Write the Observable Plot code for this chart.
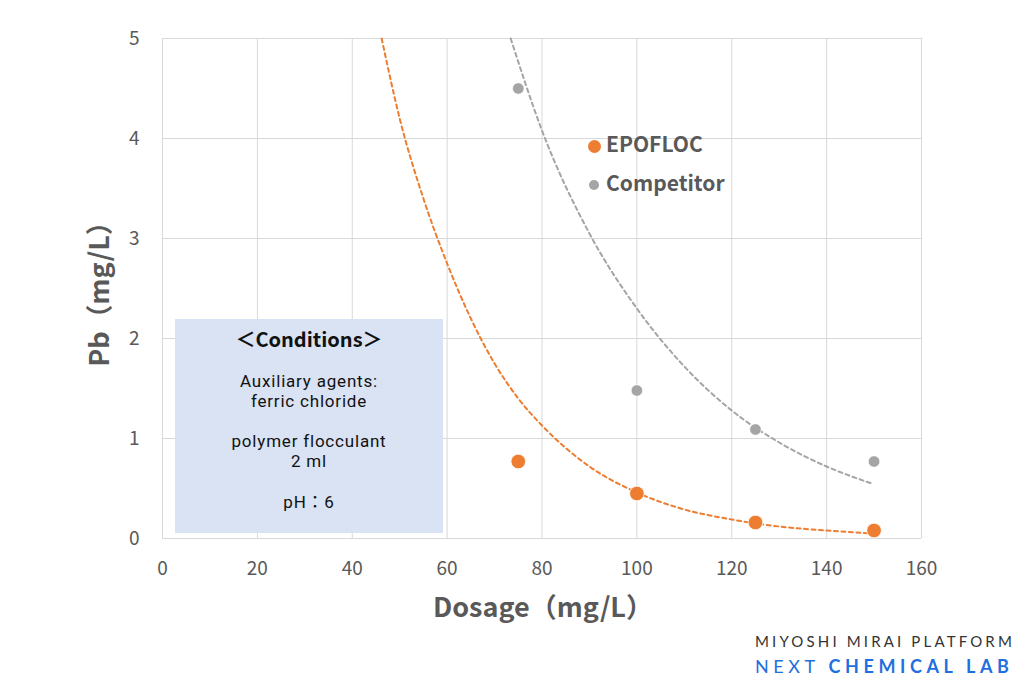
<!DOCTYPE html>
<html>
<head>
<meta charset="utf-8">
<script src="https://cdn.jsdelivr.net/npm/d3@7"></script>
<script src="https://cdn.jsdelivr.net/npm/@observablehq/plot@0.6"></script>
<style>
  body { margin: 0; background: #fff; }
  #wrap { position: relative; width: 1024px; height: 683px; overflow: hidden; font-family: "Noto Sans CJK JP", "Noto Sans", sans-serif; }
  #box { position: absolute; left: 175px; top: 319px; width: 268px; height: 214px; background: #dae3f3; color: #111; text-align: center; }
  #box .t { position: absolute; left: 0; width: 100%; font-family: Roboto, "Noto Sans CJK JP", sans-serif; font-size: 17px; letter-spacing: 0.8px; line-height: 20px; height: 20px; white-space: nowrap; }
  #box .h { font-family: "Noto Sans CJK JP", sans-serif; font-size: 20px; letter-spacing: 0; font-weight: bold; line-height: 28px; height: 28px; }
  .leg { position: absolute; font-size: 21px; font-weight: bold; color: #595959; line-height: 24px; white-space: nowrap; }
  .leg span.d { display: inline-block; border-radius: 50%; vertical-align: middle; }
  #wm1 { position: absolute; left: 755px; top: 632px; font-family: Lato, "Open Sans", sans-serif; font-size: 15px; letter-spacing: 3.15px; color: #333; white-space: nowrap; }
  #wm2 { position: absolute; left: 755px; top: 655px; font-family: Lato, "Open Sans", sans-serif; font-size: 18px; letter-spacing: 4.6px; color: #1f6fe0; white-space: nowrap; }
</style>
</head>
<body>
<div id="wrap"></div>
<script>
// Measured data
const dosage = [75, 100, 125, 150];
const epofloc = [0.77, 0.45, 0.16, 0.08];
const competitor = [4.5, 1.48, 1.09, 0.77];

// Trend lines
const epoTrendX = [46.2, 50, 55, 60, 65, 70, 75, 80, 90, 100, 110, 120, 130, 140, 150];
const epoTrendY = [5.0, 4.2, 3.4, 2.75, 2.2, 1.75, 1.4, 1.13, 0.72, 0.46, 0.29, 0.19, 0.12, 0.08, 0.05];
const compTrendX = [73.4, 80, 90, 100, 110, 120, 130, 140, 149.5];
const compTrendY = [5.0, 4.08, 3.05, 2.3, 1.72, 1.28, 0.96, 0.72, 0.55];

// Ticks and labels
const xTicks = [0, 20, 40, 60, 80, 100, 120, 140, 160];
const yTicks = [0, 1, 2, 3, 4, 5];
const xTitle = "Dosage（mg/L）";
const yTitle = "Pb（mg/L）";
const seriesNames = ["EPOFLOC", "Competitor"];
const seriesColors = ["#ED7D31", "#A5A5A5"];
const conditionTitle = "＜Conditions＞";
const conditionLines = ["Auxiliary agents:", "ferric chloride", "polymer flocculant", "2 ml", "pH：6"];

const epoPts = dosage.map((x, i) => ({x, y: epofloc[i]}));
const compPts = dosage.map((x, i) => ({x, y: competitor[i]}));
const epoTrend = epoTrendX.map((x, i) => ({x, y: epoTrendY[i]}));
const compTrend = compTrendX.map((x, i) => ({x, y: compTrendY[i]}));

const chart = Plot.plot({
  width: 1024,
  height: 683,
  marginLeft: 162,
  marginRight: 103,
  marginTop: 38,
  marginBottom: 145,
  style: {fontFamily: "'Noto Sans CJK JP', 'Noto Sans', sans-serif", fontSize: "19px", color: "#595959", background: "transparent"},
  x: {domain: [0, 160]},
  y: {domain: [0, 5]},
  marks: [
    Plot.gridX(xTicks, {stroke: "#d9d9d9", strokeOpacity: 1}),
    Plot.gridY(yTicks, {stroke: "#d9d9d9", strokeOpacity: 1}),
    Plot.axisX(xTicks, {tickSize: 0, tickPadding: 23, label: null, fontSize: 19, fill: "#595959", tickFormat: d3.format("d")}),
    Plot.axisY(yTicks, {tickSize: 0, tickPadding: 23, label: null, fontSize: 19, fill: "#595959", tickFormat: d3.format("d")}),
    Plot.line(compTrend, {x: "x", y: "y", curve: "monotone-x", stroke: seriesColors[1], strokeWidth: 2, strokeDasharray: "4,3.5"}),
    Plot.line(epoTrend, {x: "x", y: "y", curve: "monotone-x", stroke: seriesColors[0], strokeWidth: 2, strokeDasharray: "4,3.5"}),
    Plot.dot(compPts, {x: "x", y: "y", r: 5.8, fill: seriesColors[1], stroke: "white", strokeWidth: 0.8}),
    Plot.dot(epoPts, {x: "x", y: "y", r: 7.3, fill: seriesColors[0], stroke: "white", strokeWidth: 0.8}),
    Plot.text([xTitle], {frameAnchor: "bottom", textAnchor: "middle", lineAnchor: "middle", dy: 70, dx: 1, fontSize: 27, fontWeight: "bold", fill: "#595959"}),
    Plot.text([yTitle], {frameAnchor: "left", textAnchor: "middle", lineAnchor: "middle", dx: -62, dy: -1, rotate: -90, fontSize: 27, fontWeight: "bold", fill: "#595959"})
  ]
});

const wrap = document.getElementById("wrap");
wrap.appendChild(chart);
chart.style.position = "absolute";
chart.style.left = "0";
chart.style.top = "0";

// Conditions box
const box = document.createElement("div");
box.id = "box";
const head = document.createElement("div");
head.className = "t h";
head.style.top = "6px";
head.textContent = conditionTitle;
box.appendChild(head);
const lineTops = [51.5, 71.5, 112, 132, 173];
conditionLines.forEach((t, i) => {
  const d = document.createElement("div");
  d.className = "t";
  d.style.top = lineTops[i] + "px";
  d.textContent = t;
  box.appendChild(d);
});
wrap.appendChild(box);

// Legend
const legTops = [131, 170];
const legR = [13, 10];
seriesNames.forEach((n, i) => {
  const l = document.createElement("div");
  l.className = "leg";
  l.style.top = legTops[i] + "px";
  l.style.left = (594 - legR[i] / 2) + "px";
  const d = document.createElement("span");
  d.className = "d";
  d.style.width = legR[i] + "px";
  d.style.height = legR[i] + "px";
  d.style.background = seriesColors[i];
  d.style.marginRight = (12 - legR[i] / 2) + "px";
  l.appendChild(d);
  l.appendChild(document.createTextNode(n));
  wrap.appendChild(l);
});

// Watermark
const wm1 = document.createElement("div");
wm1.id = "wm1";
wm1.textContent = "MIYOSHI MIRAI PLATFORM";
wrap.appendChild(wm1);
const wm2 = document.createElement("div");
wm2.id = "wm2";
wm2.innerHTML = "NEXT <b>CHEMICAL LAB</b>";
wrap.appendChild(wm2);
</script>
</body>
</html>
